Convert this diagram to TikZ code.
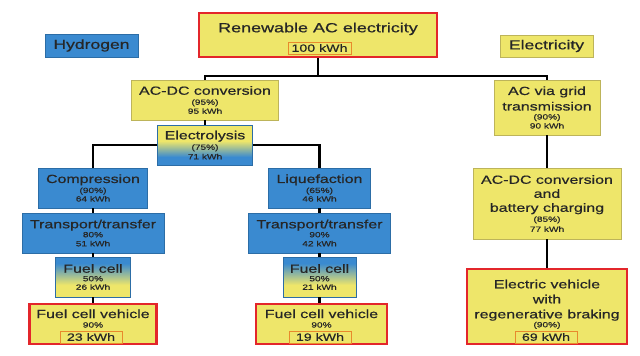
\documentclass[tikz,border=0pt]{standalone}
\usepackage{fontspec}
\setmainfont{Liberation Sans}[FakeStretch=1.35,FakeBold=0.6]
\definecolor{yel}{HTML}{EEE66A}
\definecolor{blu}{HTML}{3A8AD0}
\definecolor{ybd}{HTML}{BDB45A}
\definecolor{bbd}{HTML}{2C6DA6}
\definecolor{redb}{HTML}{E3262B}
\definecolor{orb}{HTML}{E88A2C}
\definecolor{txt}{HTML}{262626}
\pgfdeclareverticalshading{elshade}{100bp}{color(0bp)=(blu); color(35bp)=(blu); color(55bp)=(yel); color(100bp)=(yel)}
\pgfdeclareverticalshading{fcshade}{100bp}{color(0bp)=(yel); color(40bp)=(yel); color(67bp)=(blu); color(100bp)=(blu)}
\newcommand\ttlf{\fontsize{13.3}{15}\selectfont}
\newcommand\bigt{\fontsize{11.8}{14.5}\selectfont}
\newcommand\smt{\fontsize{7.5}{9}\selectfont}
\newcommand\kwt{\fontsize{10.5}{12}\selectfont}
\newcommand\tagf{\fontsize{13}{15}\selectfont}
\newcommand\dep[1]{\rule[-#1]{0pt}{#1}}
\tikzset{
  box/.style={draw, line width=0.6pt, inner sep=0pt, align=center, text=txt, font=\bigt},
  ybox/.style={box, fill=yel, draw=ybd},
  bbox/.style={box, fill=blu, draw=bbd},
  elbox/.style={box, shading=elshade, draw=bbd},
  fcbox/.style={box, shading=fcshade, draw=bbd},
  redbox/.style={box, fill=yel, draw=redb, line width=2.4pt},
  kbox/.style={draw=orb, line width=0.8pt, fill=yel, inner sep=0pt, minimum width=62pt, minimum height=12pt, font=\kwt, text=txt},
  tagbox/.style={box, font=\tagf, minimum width=93pt, minimum height=23pt},
  link/.style={line width=2.6pt, draw=black}
}
\begin{document}
\begin{tikzpicture}[x=1pt,y=-1pt]
\fill[white] (0,0) rectangle (640,356);
\useasboundingbox (0,0) rectangle (640,356);

% labels
\node[tagbox, fill=blu, draw=bbd] (hyd) at (91.5,45.5) {Hydrogen};
\node[tagbox, fill=yel, draw=ybd, minimum height=22pt] (ele) at (546.5,46) {Electricity};

% top
\node[redbox, minimum width=238pt, minimum height=44pt] (top) at (318,35) {{\ttlf Renewable AC electricity\dep{15pt}}};
\node[kbox, minimum width=63pt] (k100) at (319.5,48) {100 kWh};

% hydrogen branch
\node[ybox, minimum width=147pt, minimum height=40pt] (acdc) at (205,100) {AC-DC conversion\\[-4.5pt]{\smt (95\%)}\\[-5.5pt]{\smt 95 kWh}};
\node[elbox, minimum width=95pt, minimum height=40pt] (elec) at (205,145) {Electrolysis\\[-4pt]{\smt (75\%)}\\[-5pt]{\smt 71 kWh}};

\node[bbox, minimum width=109pt, minimum height=40pt] (comp) at (93,188) {Compression\\[-4.5pt]{\smt (90\%)}\\[-6pt]{\smt 64 kWh}};
\node[bbox, minimum width=142pt, minimum height=40pt] (trL) at (93,233) {Transport/transfer\\[-5.5pt]{\smt 80\%}\\[-5.5pt]{\smt 51 kWh}};
\node[fcbox, minimum width=75pt, minimum height=40pt] (fcL) at (93,277) {Fuel cell\\[-6pt]{\smt 50\%}\\[-6pt]{\smt 26 kWh}};
\node[redbox, minimum width=127pt, minimum height=40pt] (fcvL) at (93,324) {Fuel cell vehicle\\[-5pt]{\smt 90\%\dep{11pt}}};
\node[kbox] (k23) at (91,337) {23 kWh};

\node[bbox, minimum width=102pt, minimum height=40pt] (liq) at (319.5,188) {Liquefaction\\[-4.5pt]{\smt (65\%)}\\[-6pt]{\smt 46 kWh}};
\node[bbox, minimum width=142pt, minimum height=40pt] (trR) at (319.5,233) {Transport/transfer\\[-5.5pt]{\smt 90\%}\\[-5.5pt]{\smt 42 kWh}};
\node[fcbox, minimum width=73pt, minimum height=40pt] (fcR) at (319.5,277) {Fuel cell\\[-6pt]{\smt 50\%}\\[-6pt]{\smt 21 kWh}};
\node[redbox, minimum width=131pt, minimum height=40pt] (fcvR) at (321.5,324) {Fuel cell vehicle\\[-5pt]{\smt 90\%\dep{11pt}}};
\node[kbox] (k19) at (320,337) {19 kWh};

% electricity branch
\node[ybox, minimum width=106pt, minimum height=55pt] (grid) at (547,107.5) {AC via grid\\[1pt]transmission\\[-5.5pt]{\smt (90\%)}\\[-5.5pt]{\smt 90 kWh}};
\node[ybox, minimum width=148pt, minimum height=71pt] (acdcb) at (547,203.5) {AC-DC conversion\\[-0.5pt]and\\[-0.5pt]battery charging\\[-4.5pt]{\smt (85\%)}\\[-4.5pt]{\smt 77 kWh}};
\node[redbox, minimum width=160pt, minimum height=75pt] (ev) at (547,306.5) {Electric vehicle\\[0.5pt]with\\[0.5pt]regenerative braking\\[-5.5pt]{\smt (90\%)\dep{6pt}}};
\node[kbox] (k69) at (546,337) {69 kWh};

% connectors
\coordinate (j1) at (318,76);
\draw[link] (top.south) -- (j1);
\draw[link] (acdc.north) |- (j1) -| (grid.north);
\draw[link] (acdc) -- (elec);
\draw[link] (elec.west) -| (comp.north);
\draw[link] (elec.east) -| (liq.north);
\draw[link] (comp) -- (trL);
\draw[link] (trL) -- (fcL);
\draw[link] (fcL) -- (fcvL);
\draw[link] (liq) -- (trR);
\draw[link] (trR) -- (fcR);
\draw[link] (fcR.south) -- (fcR.south |- fcvR.north);
\draw[link] (grid) -- (acdcb);
\draw[link] (acdcb) -- (ev);
\end{tikzpicture}
\end{document}
